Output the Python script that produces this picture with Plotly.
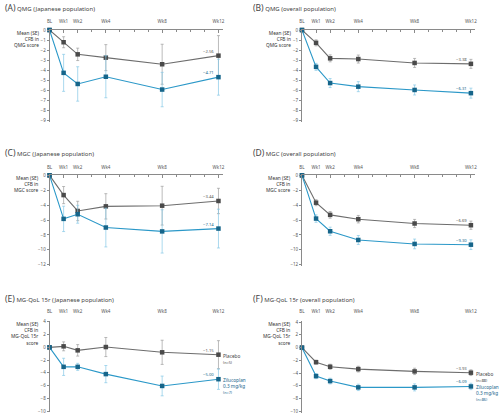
import plotly.graph_objects as go

W, H = 500, 416
weeks = [0, 1, 2, 4, 8, 12]
week_labels = ["BL", "Wk1", "Wk2", "Wk4", "Wk8", "Wk12"]

# Panel A: QMG Japanese
a_pbo = [0, -1.22, -2.43, -2.76, -3.42, -2.56]
a_pbo_se = [0, 0.55, 0.62, 1.3, 2.0, 2.0]
a_zil = [0, -4.28, -5.39, -4.67, -5.95, -4.71]
a_zil_se = [0, 1.85, 1.72, 2.1, 1.72, 1.8]
# Panel B: QMG overall
b_pbo = [0, -1.28, -2.83, -2.90, -3.29, -3.38]
b_pbo_se = [0, 0.3, 0.35, 0.4, 0.45, 0.45]
b_zil = [0, -3.68, -5.30, -5.66, -5.99, -6.31]
b_zil_se = [0, 0.35, 0.45, 0.5, 0.5, 0.5]
# Panel C: MGC Japanese
c_pbo = [0, -2.65, -4.78, -4.16, -4.07, -3.44]
c_pbo_se = [0, 1.15, 1.3, 1.7, 2.6, 1.7]
c_zil = [0, -5.84, -5.22, -7.00, -7.52, -7.14]
c_zil_se = [0, 1.7, 1.2, 2.6, 2.9, 2.6]
# Panel D: MGC overall
d_pbo = [0, -3.67, -5.30, -5.88, -6.46, -6.69]
d_pbo_se = [0, 0.4, 0.45, 0.5, 0.55, 0.55]
d_zil = [0, -5.80, -7.50, -8.67, -9.20, -9.30]
d_zil_se = [0, 0.5, 0.55, 0.6, 0.65, 0.65]
# Panel E: MG-QoL15r Japanese
e_pbo = [0, 0.16, -0.47, 0.05, -0.78, -1.15]
e_pbo_se = [0, 0.7, 0.9, 1.5, 1.9, 2.2]
e_zil = [0, -3.06, -3.06, -4.20, -6.06, -5.00]
e_zil_se = [0, 1.35, 0.55, 1.35, 1.55, 1.6]
# Panel F: MG-QoL15r overall
f_pbo = [0, -2.28, -3.00, -3.37, -3.73, -3.93]
f_pbo_se = [0, 0.3, 0.4, 0.45, 0.5, 0.45]
f_zil = [0, -4.47, -5.25, -6.24, -6.24, -6.09]
f_zil_se = [0, 0.4, 0.45, 0.5, 0.55, 0.5]

PBO_LINE = "#6d6d6d"
PBO_MARK = "#4a4a4a"
PBO_ERR = "#9e9e9e"
ZIL_LINE = "#2b98c8"
ZIL_MARK = "#16658a"
ZIL_ERR = "#86c8e6"
AXIS = "#8a8a8a"
TXT = "#333333"
FONT = "Noto Sans"

panels = [
    ("A", "QMG (Japanese population)", "Mean (SE)<br>CFB in<br>QMG score",
     a_pbo, a_pbo_se, a_zil, a_zil_se, 47, 27.3, 10.1, (-9.2, 0), 1, None, 5),
    ("B", "QMG (overall population)", "Mean (SE)<br>CFB in<br>QMG score",
     b_pbo, b_pbo_se, b_zil, b_zil_se, 302, 27.3, 10.1, (-9.2, 0), 1, None, 5),
    ("C", "MGC (Japanese population)", "Mean (SE)<br>CFB in<br>MGC score",
     c_pbo, c_pbo_se, c_zil, c_zil_se, 47, 174, 7.53, (-12.2, 0), 2, None, 151),
    ("D", "MGC (overall population)", "Mean (SE)<br>CFB in<br>MGC score",
     d_pbo, d_pbo_se, d_zil, d_zil_se, 302, 174, 7.53, (-12.2, 0), 2, None, 151),
    ("E", "MG-QoL 15r (Japanese population)", "Mean (SE)<br>CFB in<br>MG-QoL 15r<br>score",
     e_pbo, e_pbo_se, e_zil, e_zil_se, 47, 347.7, 6.43, (-10.2, 4.2), 2, ("(n=5)", "(n=7)"), 298),
    ("F", "MG-QoL 15r (overall population)", "Mean (SE)<br>CFB in<br>MG-QoL 15r<br>score",
     f_pbo, f_pbo_se, f_zil, f_zil_se, 302, 348, 6.43, (-10.2, 4.2), 2, ("(n=88)", "(n=86)"), 298),
]

fig = go.Figure()
layout = dict(
    width=W, height=H, margin=dict(l=0, r=0, t=0, b=0),
    paper_bgcolor="white", plot_bgcolor="white", showlegend=False,
    font=dict(family=FONT, size=5, color=TXT),
)
annotations = []
XMAX = 12.3
PX_PER_WEEK = 14.22

for i, (key, title, ytitle, pbo, pbo_se, zil, zil_se, x0, yzero, ppu, yr, ydt, legend, ty) in enumerate(panels):
    n = i + 1
    xa = "x" if n == 1 else f"x{n}"
    ya = "y" if n == 1 else f"y{n}"
    xkey = "xaxis" if n == 1 else f"xaxis{n}"
    ykey = "yaxis" if n == 1 else f"yaxis{n}"
    x1 = x0 + XMAX * PX_PER_WEEK
    ytop = yzero - yr[1] * ppu
    ybot = yzero - yr[0] * ppu
    xdom = [x0 / W, x1 / W]
    ydom = [1 - ybot / H, 1 - ytop / H]
    top_axis_line = yr[1] == 0

    xdef = dict(
        domain=xdom, range=[0, XMAX], anchor=ya, side="top",
        tickvals=weeks, ticktext=week_labels, tickfont=dict(size=4.5, color="#555"),
        showgrid=False, zeroline=False,
        showline=top_axis_line, linecolor=AXIS, linewidth=0.8,
        ticks="inside" if top_axis_line else "", ticklen=3, tickcolor=AXIS, tickwidth=0.6,
        ticklabelstandoff=4 if top_axis_line else 6,
        fixedrange=True,
    )
    if top_axis_line:
        xdef["minor"] = dict(dtick=1, tick0=0, ticks="inside", ticklen=2, tickcolor=AXIS, tickwidth=0.6)
    layout[xkey] = xdef
    ticks_y = list(range(int(yr[1]) - (int(yr[1]) % ydt), int(yr[0]) - 1, -ydt))
    ticks_y = [t for t in ticks_y if yr[0] <= t <= yr[1]]
    layout[ykey] = dict(
        domain=ydom, range=list(yr), anchor=xa,
        tickvals=ticks_y, tickfont=dict(size=4.5, color="#555"),
        showgrid=False, zeroline=False, showline=True, linecolor=AXIS, linewidth=0.8,
        ticks="outside", ticklen=2, tickcolor=AXIS, tickwidth=0.6,
        fixedrange=True,
    )

    if not top_axis_line:
        m = n + 6
        okey = f"xaxis{m}"
        layout[okey] = dict(
            domain=xdom, range=[0, XMAX], overlaying=xa, anchor="free",
            position=1 - yzero / H, side="bottom",
            tickvals=weeks, showticklabels=False, showgrid=False, zeroline=False,
            showline=True, linecolor=AXIS, linewidth=0.8,
            ticks="outside", ticklen=3, tickcolor=AXIS, tickwidth=0.6,
            minor=dict(dtick=1, tick0=0, ticks="outside", ticklen=2, tickcolor=AXIS, tickwidth=0.6),
            fixedrange=True,
        )

    for vals, se, lc, mc, ec in ((pbo, pbo_se, PBO_LINE, PBO_MARK, PBO_ERR),
                                 (zil, zil_se, ZIL_LINE, ZIL_MARK, ZIL_ERR)):
        fig.add_trace(go.Scatter(
            x=weeks, y=vals, xaxis=xa, yaxis=ya, mode="lines+markers",
            line=dict(color=lc, width=1.1),
            marker=dict(symbol="square", size=4.5, color=mc),
            error_y=dict(type="data", array=se, color=ec, thickness=0.7, width=1.5),
            cliponaxis=False, hoverinfo="skip",
        ))
        annotations.append(dict(
            x=12, y=vals[-1], xref=xa, yref=ya, text=f"{vals[-1]:.2f}".replace("-", "\u2212"),
            showarrow=False, xanchor="right", yanchor="bottom", xshift=-2, yshift=0,
            font=dict(size=4.2, color="#555" if lc == PBO_LINE else ZIL_MARK),
        ))

    if legend:
        annotations.append(dict(
            x=12, y=pbo[-1], xref=xa, yref=ya, xanchor="left", yanchor="top", xshift=3, yshift=4,
            text="Placebo<br><span style='font-size:3.8px'>" + legend[0] + "</span>",
            showarrow=False, align="left", font=dict(size=4.7, color="#444")))
        annotations.append(dict(
            x=12, y=zil[-1], xref=xa, yref=ya, xanchor="left", yanchor="top", xshift=3, yshift=4,
            text="Zilucoplan<br>0.3 mg/kg<br><span style='font-size:3.8px'>" + legend[1] + "</span>",
            showarrow=False, align="left", font=dict(size=4.7, color=ZIL_MARK)))

    annotations.append(dict(
        x=(0 if x0 < 250 else 250) / W, y=1 - ty / H, xref="paper", yref="paper",
        xanchor="left", yanchor="middle", showarrow=False,
        text=f"<span style='font-size:8.5px'>({key})</span> {title}",
        font=dict(size=6, color="#444")))
    annotations.append(dict(
        x=(x0 - 9) / W, y=1 - (ytop - 2) / H, xref="paper", yref="paper",
        xanchor="right", yanchor="top", showarrow=False, align="right",
        text=ytitle, font=dict(size=4.8, color="#333")))

layout["annotations"] = annotations
fig.update_layout(**layout)
fig.write_html("out.html", config={"displayModeBar": False},
               post_script="document.body.style.margin='0px';")
